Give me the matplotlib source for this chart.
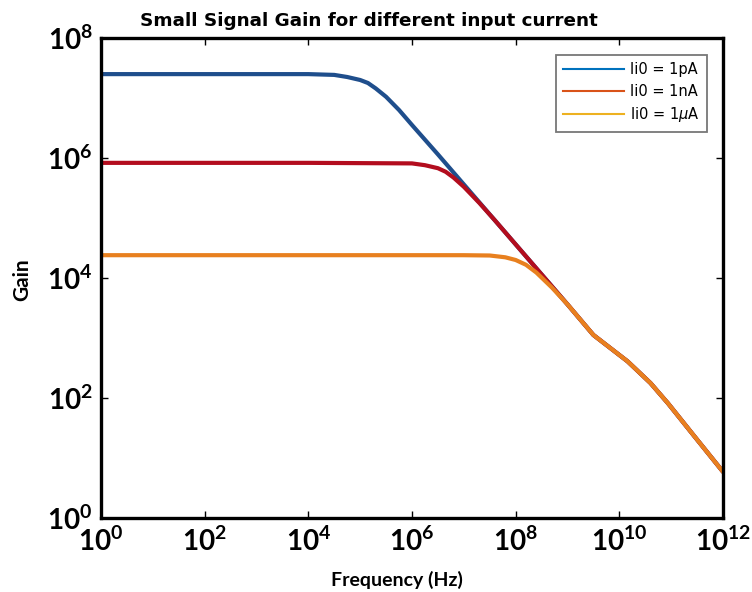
import numpy as np
import matplotlib
matplotlib.use("Agg")
import matplotlib.pyplot as plt
from matplotlib.lines import Line2D

# ---- data ----
freq_pA = [1e0, 1e2, 1e4, 10**4.5, 10**4.75, 1e5, 10**5.15, 10**5.3, 10**5.5, 10**5.75, 1e6, 10**6.5, 1e7, 10**7.5, 1e8, 10**8.5, 1e9, 10**9.5, 10**10.16, 10**10.6, 10**10.94, 10**11.45, 1e12]
gain_pA = [2.5e7, 2.5e7, 2.5e7, 10**7.385, 10**7.35, 10**7.30, 10**7.25, 10**7.16, 10**7.02, 10**6.80, 10**6.55, 10**6.06, 10**5.56, 10**5.06, 10**4.56, 10**4.06, 10**3.56, 10**3.05, 10**2.61, 10**2.25, 10**1.91, 10**1.36, 10**0.77]

freq_nA = [1e0, 1e2, 1e4, 1e6, 10**6.25, 10**6.5, 10**6.65, 10**6.8, 10**7.0, 10**7.3, 10**7.6, 1e8, 10**8.5, 1e9, 10**9.5, 10**10.16, 10**10.6, 10**10.94, 10**11.45, 1e12]
gain_nA = [8.3e5, 8.3e5, 8.3e5, 10**5.91, 10**5.88, 10**5.83, 10**5.77, 10**5.675, 10**5.52, 10**5.25, 10**4.96, 10**4.56, 10**4.06, 10**3.56, 10**3.05, 10**2.61, 10**2.25, 10**1.91, 10**1.36, 10**0.77]

freq_uA = [1e0, 1e2, 1e4, 1e6, 1e7, 10**7.5, 10**7.8, 1e8, 10**8.2, 10**8.4, 10**8.7, 1e9, 10**9.5, 10**10.16, 10**10.6, 10**10.94, 10**11.45, 1e12]
gain_uA = [2.4e4, 2.4e4, 2.4e4, 2.4e4, 10**4.38, 10**4.375, 10**4.345, 10**4.30, 10**4.22, 10**4.09, 10**3.84, 10**3.56, 10**3.05, 10**2.61, 10**2.25, 10**1.91, 10**1.36, 10**0.77]

labels = ["Ii0 = 1pA", "Ii0 = 1nA", "Ii0 = 1$\\mathit{\\mu}$A"]
line_colors = ["#1f4e8c", "#b30d1e", "#e8801f"]
legend_colors = ["#0072BD", "#D95319", "#EDB120"]

xticks = [1e0, 1e2, 1e4, 1e6, 1e8, 1e10, 1e12]
yticks = [1e0, 1e2, 1e4, 1e6, 1e8]

title = "Small Signal Gain for different input current"
xlabel = "Frequency (Hz)"
ylabel = "Gain"

# ---- figure ----
plt.rcParams['mathtext.fontset'] = 'custom'
plt.rcParams['mathtext.rm'] = 'Lato:bold'
plt.rcParams['mathtext.bf'] = 'Lato:bold'
plt.rcParams['mathtext.it'] = 'DejaVu Sans:italic'
plt.rcParams['mathtext.default'] = 'rm'

fig = plt.figure(figsize=(7.52, 5.92), dpi=100)
W, H = 752, 592
L, R, T, B = 101, 723, 38, 518
ax = fig.add_axes([L / W, 1 - B / H, (R - L) / W, (B - T) / H])

for f, g, c in zip([freq_pA, freq_nA, freq_uA], [gain_pA, gain_nA, gain_uA], line_colors):
    ax.plot(f, g, color=c, lw=3.0, solid_capstyle='round', solid_joinstyle='round')

ax.set_xscale('log')
ax.set_yscale('log')
ax.set_xlim(1e0, 1e12)
ax.set_ylim(1e0, 1e8)
ax.set_xticks(xticks)
ax.set_yticks(yticks)
ax.minorticks_off()
ax.tick_params(which='both', direction='in', top=True, right=True, length=5, width=1,
               labelsize=20, pad=6)
for lab in ax.get_xticklabels() + ax.get_yticklabels():
    lab.set_fontfamily('Lato')
    lab.set_fontweight('bold')
for s in ax.spines.values():
    s.set_linewidth(2.4)
    s.set_color('black')

handles = [Line2D([0], [0], color=c, lw=1.5) for c in legend_colors]
leg = fig.legend(handles, labels, loc='upper right', bbox_to_anchor=(707 / W, 1 - 55 / H),
                 fancybox=False, edgecolor='#777777', framealpha=1,
                 prop={'family': 'DejaVu Sans', 'size': 10.5},
                 handlelength=4.2, borderpad=0.5, labelspacing=0.45, handletextpad=0.4,
                 borderaxespad=0)
leg.get_frame().set_linewidth(1.3)

fig.text(369 / W, 1 - 21 / H, title, ha='center', va='center', fontsize=13.2,
         fontweight='bold', family='DejaVu Sans')
fig.text(397 / W, 1 - 580 / H, xlabel, ha='center', va='center', fontsize=14,
         fontweight='bold', family='Lato')
fig.text(22 / W, 1 - 280 / H, ylabel, ha='center', va='center', fontsize=15,
         fontweight='bold', family='Lato', rotation=90)

fig.savefig('out.png', dpi=100)
